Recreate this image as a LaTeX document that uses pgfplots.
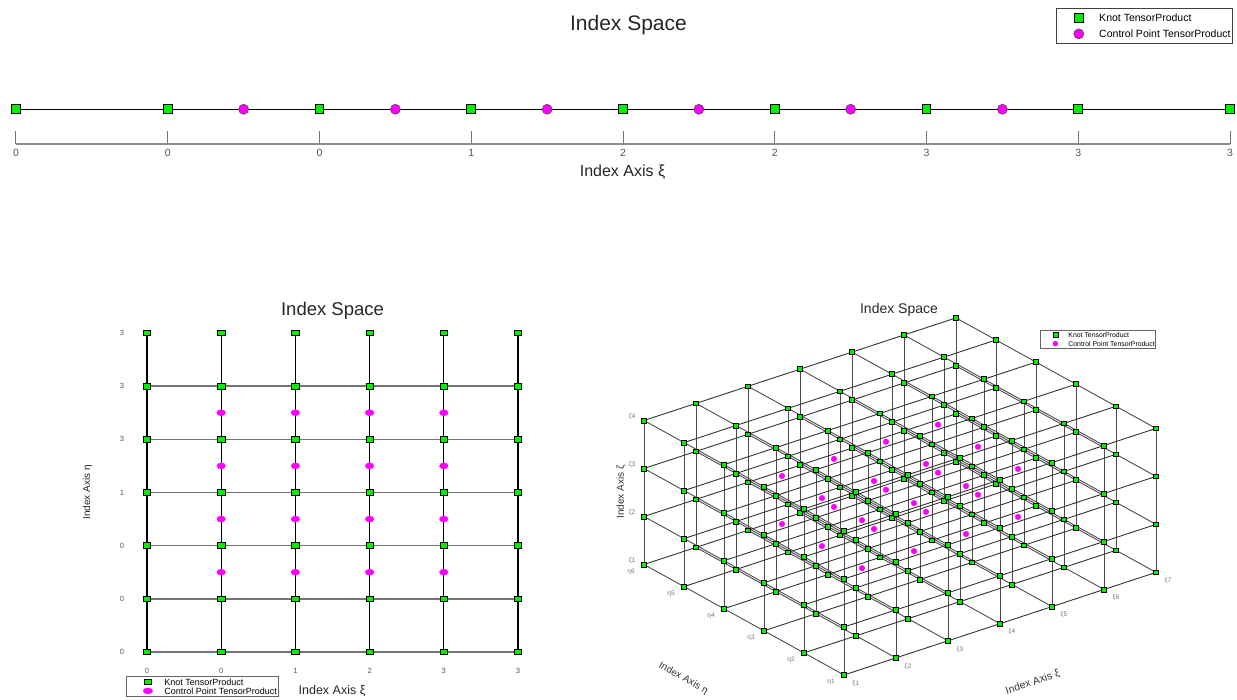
\documentclass[border=0pt]{standalone}
\usepackage{pgfplots}
\pgfplotsset{compat=1.18}
\usepackage{pgfplotstable}
\usepackage{fontspec}
\setmainfont{Liberation Sans}

\definecolor{knotgreen}{RGB}{0,240,0}
\definecolor{ctrlmag}{RGB}{255,0,255}
\definecolor{labelgray}{RGB}{85,85,85}

\newcommand{\fs}[1]{\fontsize{#1}{#1}\selectfont}

% 2D index grid: knots listed column by column (xi index i, eta index j)
\pgfplotstableread[row sep=\\]{
i j\\
0 0\\0 1\\0 2\\0 3\\0 4\\0 5\\0 6\\nan nan\\
1 0\\1 1\\1 2\\1 3\\1 4\\1 5\\1 6\\nan nan\\
2 0\\2 1\\2 2\\2 3\\2 4\\2 5\\2 6\\nan nan\\
3 0\\3 1\\3 2\\3 3\\3 4\\3 5\\3 6\\nan nan\\
4 0\\4 1\\4 2\\4 3\\4 4\\4 5\\4 6\\nan nan\\
5 0\\5 1\\5 2\\5 3\\5 4\\5 5\\5 6\\
}\knotsTwo

% 3D index grid: knots listed along xi for every (eta, zeta)
\pgfplotstableread[row sep=\\]{
a b c\\
0 0 0\\1 0 0\\2 0 0\\3 0 0\\4 0 0\\5 0 0\\6 0 0\\nan nan nan\\
0 1 0\\1 1 0\\2 1 0\\3 1 0\\4 1 0\\5 1 0\\6 1 0\\nan nan nan\\
0 2 0\\1 2 0\\2 2 0\\3 2 0\\4 2 0\\5 2 0\\6 2 0\\nan nan nan\\
0 3 0\\1 3 0\\2 3 0\\3 3 0\\4 3 0\\5 3 0\\6 3 0\\nan nan nan\\
0 4 0\\1 4 0\\2 4 0\\3 4 0\\4 4 0\\5 4 0\\6 4 0\\nan nan nan\\
0 5 0\\1 5 0\\2 5 0\\3 5 0\\4 5 0\\5 5 0\\6 5 0\\nan nan nan\\
0 0 1\\1 0 1\\2 0 1\\3 0 1\\4 0 1\\5 0 1\\6 0 1\\nan nan nan\\
0 1 1\\1 1 1\\2 1 1\\3 1 1\\4 1 1\\5 1 1\\6 1 1\\nan nan nan\\
0 2 1\\1 2 1\\2 2 1\\3 2 1\\4 2 1\\5 2 1\\6 2 1\\nan nan nan\\
0 3 1\\1 3 1\\2 3 1\\3 3 1\\4 3 1\\5 3 1\\6 3 1\\nan nan nan\\
0 4 1\\1 4 1\\2 4 1\\3 4 1\\4 4 1\\5 4 1\\6 4 1\\nan nan nan\\
0 5 1\\1 5 1\\2 5 1\\3 5 1\\4 5 1\\5 5 1\\6 5 1\\nan nan nan\\
0 0 2\\1 0 2\\2 0 2\\3 0 2\\4 0 2\\5 0 2\\6 0 2\\nan nan nan\\
0 1 2\\1 1 2\\2 1 2\\3 1 2\\4 1 2\\5 1 2\\6 1 2\\nan nan nan\\
0 2 2\\1 2 2\\2 2 2\\3 2 2\\4 2 2\\5 2 2\\6 2 2\\nan nan nan\\
0 3 2\\1 3 2\\2 3 2\\3 3 2\\4 3 2\\5 3 2\\6 3 2\\nan nan nan\\
0 4 2\\1 4 2\\2 4 2\\3 4 2\\4 4 2\\5 4 2\\6 4 2\\nan nan nan\\
0 5 2\\1 5 2\\2 5 2\\3 5 2\\4 5 2\\5 5 2\\6 5 2\\nan nan nan\\
0 0 3\\1 0 3\\2 0 3\\3 0 3\\4 0 3\\5 0 3\\6 0 3\\nan nan nan\\
0 1 3\\1 1 3\\2 1 3\\3 1 3\\4 1 3\\5 1 3\\6 1 3\\nan nan nan\\
0 2 3\\1 2 3\\2 2 3\\3 2 3\\4 2 3\\5 2 3\\6 2 3\\nan nan nan\\
0 3 3\\1 3 3\\2 3 3\\3 3 3\\4 3 3\\5 3 3\\6 3 3\\nan nan nan\\
0 4 3\\1 4 3\\2 4 3\\3 4 3\\4 4 3\\5 4 3\\6 4 3\\nan nan nan\\
0 5 3\\1 5 3\\2 5 3\\3 5 3\\4 5 3\\5 5 3\\6 5 3\\
}\knotsThree

% 3D grid lines along eta (one per xi, zeta)
\pgfplotstableread[row sep=\\]{
a b c\\
0 0 0\\0 5 0\\nan nan nan\\0 0 1\\0 5 1\\nan nan nan\\0 0 2\\0 5 2\\nan nan nan\\0 0 3\\0 5 3\\nan nan nan\\
1 0 0\\1 5 0\\nan nan nan\\1 0 1\\1 5 1\\nan nan nan\\1 0 2\\1 5 2\\nan nan nan\\1 0 3\\1 5 3\\nan nan nan\\
2 0 0\\2 5 0\\nan nan nan\\2 0 1\\2 5 1\\nan nan nan\\2 0 2\\2 5 2\\nan nan nan\\2 0 3\\2 5 3\\nan nan nan\\
3 0 0\\3 5 0\\nan nan nan\\3 0 1\\3 5 1\\nan nan nan\\3 0 2\\3 5 2\\nan nan nan\\3 0 3\\3 5 3\\nan nan nan\\
4 0 0\\4 5 0\\nan nan nan\\4 0 1\\4 5 1\\nan nan nan\\4 0 2\\4 5 2\\nan nan nan\\4 0 3\\4 5 3\\nan nan nan\\
5 0 0\\5 5 0\\nan nan nan\\5 0 1\\5 5 1\\nan nan nan\\5 0 2\\5 5 2\\nan nan nan\\5 0 3\\5 5 3\\nan nan nan\\
6 0 0\\6 5 0\\nan nan nan\\6 0 1\\6 5 1\\nan nan nan\\6 0 2\\6 5 2\\nan nan nan\\6 0 3\\6 5 3\\
}\etaLines

% 3D grid lines along zeta (one per xi, eta)
\pgfplotstableread[row sep=\\]{
a b c\\
0 0 0\\0 0 3\\nan nan nan\\0 1 0\\0 1 3\\nan nan nan\\0 2 0\\0 2 3\\nan nan nan\\0 3 0\\0 3 3\\nan nan nan\\0 4 0\\0 4 3\\nan nan nan\\0 5 0\\0 5 3\\nan nan nan\\
1 0 0\\1 0 3\\nan nan nan\\1 1 0\\1 1 3\\nan nan nan\\1 2 0\\1 2 3\\nan nan nan\\1 3 0\\1 3 3\\nan nan nan\\1 4 0\\1 4 3\\nan nan nan\\1 5 0\\1 5 3\\nan nan nan\\
2 0 0\\2 0 3\\nan nan nan\\2 1 0\\2 1 3\\nan nan nan\\2 2 0\\2 2 3\\nan nan nan\\2 3 0\\2 3 3\\nan nan nan\\2 4 0\\2 4 3\\nan nan nan\\2 5 0\\2 5 3\\nan nan nan\\
3 0 0\\3 0 3\\nan nan nan\\3 1 0\\3 1 3\\nan nan nan\\3 2 0\\3 2 3\\nan nan nan\\3 3 0\\3 3 3\\nan nan nan\\3 4 0\\3 4 3\\nan nan nan\\3 5 0\\3 5 3\\nan nan nan\\
4 0 0\\4 0 3\\nan nan nan\\4 1 0\\4 1 3\\nan nan nan\\4 2 0\\4 2 3\\nan nan nan\\4 3 0\\4 3 3\\nan nan nan\\4 4 0\\4 4 3\\nan nan nan\\4 5 0\\4 5 3\\nan nan nan\\
5 0 0\\5 0 3\\nan nan nan\\5 1 0\\5 1 3\\nan nan nan\\5 2 0\\5 2 3\\nan nan nan\\5 3 0\\5 3 3\\nan nan nan\\5 4 0\\5 4 3\\nan nan nan\\5 5 0\\5 5 3\\nan nan nan\\
6 0 0\\6 0 3\\nan nan nan\\6 1 0\\6 1 3\\nan nan nan\\6 2 0\\6 2 3\\nan nan nan\\6 3 0\\6 3 3\\nan nan nan\\6 4 0\\6 4 3\\nan nan nan\\6 5 0\\6 5 3\\
}\zetaLines

% 3D control points (Greville positions in index space)
\pgfplotstableread[row sep=\\]{
a b c\\
1.5 1.5 1\\2.5 1.5 1\\3.5 1.5 1\\4.5 1.5 1\\
1.5 2.5 1\\2.5 2.5 1\\3.5 2.5 1\\4.5 2.5 1\\
1.5 3.5 1\\2.5 3.5 1\\3.5 3.5 1\\4.5 3.5 1\\
1.5 1.5 2\\2.5 1.5 2\\3.5 1.5 2\\4.5 1.5 2\\
1.5 2.5 2\\2.5 2.5 2\\3.5 2.5 2\\4.5 2.5 2\\
1.5 3.5 2\\2.5 3.5 2\\3.5 3.5 2\\4.5 3.5 2\\
}\ctrlThree

\pgfplotsset{
  every axis/.append style={unbounded coords=jump, legend cell align=left},
}
\tikzset{
  tick3d/.style={font=\fs{6.5}, text=black!55, inner sep=0pt},
}

\begin{document}
\begin{tikzpicture}
\useasboundingbox (0pt,0pt) rectangle (1237pt,700pt);

% ---------------- 1D index space ----------------
\begin{axis}[
  anchor=south west, at={(16pt,556pt)},
  x=151.75pt, y=1pt, disabledatascaling,
  xmin=0, xmax=8, ymin=-34.7, ymax=0, clip=false,
  axis x line=bottom, axis y line=none, ytick=\empty,
  axis line style={-, draw=black!45, line width=1.3pt},
  x axis line style={-},
  xtick={0,1,...,8}, xticklabels={0,0,0,1,2,2,3,3,3},
  xtick align=inside, major tick length=13pt,
  tick style={draw=black!55, line width=1pt},
  xticklabel style={font=\fs{10.5}, text=labelgray, anchor=base, yshift=-12.7pt, inner sep=0pt},
  title={Index Space}, title style={font=\fs{21}, text=black!85, at={(0.5045,3.089)}, anchor=base},
  xlabel={Index Axis ξ}, xlabel style={font=\fs{16}, text=black!85, at={(0.4996,-0.95)}, anchor=base},
  legend image code/.code={\path (-20pt,0pt) (20pt,0pt);\draw[#1] plot coordinates {(0pt,0pt)};},
  legend style={at={(1.00247,3.919)}, anchor=north east, draw=black!75, line width=0.9pt,
    inner xsep=2pt, inner ysep=5pt, row sep=6.8pt, font=\fs{10.5},
    nodes={inner sep=0pt, text height=7.5pt, text depth=0pt}},
]
\addplot[black, line width=1.3pt, mark=square*, mark size=4.3pt,
  mark options={fill=knotgreen, draw=black, line width=1pt}, forget plot]
  coordinates {(0,0) (1,0) (2,0) (3,0) (4,0) (5,0) (6,0) (7,0) (8,0)};
\addplot[only marks, mark=*, mark size=5pt,
  mark options={fill=ctrlmag, draw=black!70, line width=0.6pt}, forget plot]
  coordinates {(1.5,0) (2.5,0) (3.5,0) (4.5,0) (5.5,0) (6.5,0)};
\addlegendimage{mark=square*, mark size=4.3pt, mark options={fill=knotgreen, draw=black, line width=1pt}}
\addlegendentry{Knot TensorProduct}
\addlegendimage{mark=*, mark size=5pt, mark options={fill=ctrlmag, draw=black!70, line width=0.6pt}}
\addlegendentry{Control Point TensorProduct}
\end{axis}

% ---------------- 2D index space ----------------
\begin{axis}[
  anchor=south west, at={(147pt,48pt)},
  x=74.2pt, y=53.17pt, disabledatascaling,
  xmin=0, xmax=5, ymin=0, ymax=6, clip=false,
  axis line style={draw=none}, tick style={draw=none}, major tick length=0pt,
  xtick={0,...,5}, xticklabels={0,0,1,2,3,3},
  ytick={0,...,6}, yticklabels={0,0,0,1,3,3,3},
  ticklabel style={font=\fs{7.5}, text=labelgray, inner sep=0pt},
  xticklabel style={anchor=base, yshift=-21.7pt},
  yticklabel style={anchor=east, xshift=-22.7pt},
  title={Index Space}, title style={font=\fs{18.5}, text=black!85, at={(0.5,1.0354)}, anchor=base},
  xlabel={Index Axis ξ}, xlabel style={font=\fs{12.5}, text=black!85, at={(0.4987,-0.1348)}, anchor=base},
  ylabel={Index Axis η}, ylabel style={font=\fs{10}, text=black!85, at={(-0.1536,0.5)}, anchor=base},
  legend image code/.code={\path (-19.7pt,0pt) (16pt,0pt);\draw[#1] plot coordinates {(0pt,0pt)};},
  legend style={at={(-0.0566,-0.0752)}, anchor=north west, draw=black!60, line width=0.7pt,
    inner xsep=1.5pt, inner ysep=2.5pt, row sep=2.5pt, font=\fs{9},
    nodes={inner sep=0pt, text height=6.4pt, text depth=0pt}},
]
% lines along xi
\addplot[black!55, line width=1.6pt, forget plot] coordinates {
  (0,0) (5,0) (nan,nan) (0,1) (5,1) (nan,nan) (0,2) (5,2) (nan,nan)
  (0,3) (5,3) (nan,nan) (0,4) (5,4) (nan,nan) (0,5) (5,5)};
% lines along eta
\addplot[black, line width=1.2pt, forget plot] table[x=i, y=j] {\knotsTwo};
\addplot[only marks, mark=*, mark size=3.1pt,
  mark options={fill=ctrlmag, draw=ctrlmag, line width=0.3pt, xscale=1.4}, forget plot]
  coordinates {
  (1,1.5) (2,1.5) (3,1.5) (4,1.5)
  (1,2.5) (2,2.5) (3,2.5) (4,2.5)
  (1,3.5) (2,3.5) (3,3.5) (4,3.5)
  (1,4.5) (2,4.5) (3,4.5) (4,4.5)};
\addplot[only marks, mark=square*, mark size=3.7pt,
  mark options={fill=knotgreen, draw=black, line width=0.8pt, yscale=0.75}, forget plot]
  table[x=i, y=j] {\knotsTwo};
\addlegendimage{mark=square*, mark size=3.3pt, mark options={fill=knotgreen, draw=black, line width=0.7pt, yscale=0.8}}
\addlegendentry{Knot TensorProduct}
\addlegendimage{mark=*, mark size=3pt, mark options={fill=ctrlmag, draw=ctrlmag, line width=0.3pt, xscale=1.6}}
\addlegendentry{Control Point TensorProduct}
\end{axis}

% ---------------- 3D index space ----------------
\begin{axis}[
  anchor=origin, at={(844pt,25pt)},
  x={(52pt,17.1pt)}, y={(-40pt,22.1pt)}, z={(0pt,48pt)},
  disabledatascaling,
  xmin=0, xmax=6, ymin=0, ymax=5, zmin=0, zmax=3,
  hide axis, clip=false,
  legend image code/.code={\path (-13.6pt,0pt) (12.7pt,0pt);\draw[#1] plot coordinates {(0pt,0pt)};},
  legend style={at={(1.0,0.966)}, anchor=north east, draw=black!60, line width=0.6pt,
    inner xsep=1pt, inner ysep=2.3pt, row sep=3.5pt, font=\fs{6.9},
    nodes={inner sep=0pt, text height=4.9pt, text depth=0pt}},
]
\addplot3[black!70, line width=0.9pt, forget plot] table[x=a, y=b, z=c] {\etaLines};
\addplot3[black!70, line width=0.9pt, forget plot] table[x=a, y=b, z=c] {\zetaLines};
\addplot3[black!80, line width=0.9pt, forget plot] table[x=a, y=b, z=c] {\knotsThree};
\addplot3[only marks, mark=*, mark size=2.9pt,
  mark options={fill=ctrlmag, draw=ctrlmag, line width=0.2pt}, forget plot]
  table[x=a, y=b, z=c] {\ctrlThree};
\addplot3[only marks, mark=square*, mark size=2.4pt,
  mark options={fill=knotgreen, draw=black, line width=0.7pt}, forget plot]
  table[x=a, y=b, z=c] {\knotsThree};
\addlegendimage{mark=square*, mark size=2.4pt, mark options={fill=knotgreen, draw=black, line width=0.6pt}}
\addlegendentry{Knot TensorProduct}
\addlegendimage{mark=*, mark size=2.6pt, mark options={fill=ctrlmag, draw=ctrlmag, line width=0.2pt}}
\addlegendentry{Control Point TensorProduct}

% index labels along the three edges
\node[tick3d] at ([shift={(12pt,-8.5pt)}]axis cs:0,0,0) {ξ1};
\node[tick3d] at ([shift={(12pt,-8.5pt)}]axis cs:1,0,0) {ξ2};
\node[tick3d] at ([shift={(12pt,-8.5pt)}]axis cs:2,0,0) {ξ3};
\node[tick3d] at ([shift={(12pt,-8.5pt)}]axis cs:3,0,0) {ξ4};
\node[tick3d] at ([shift={(12pt,-8.5pt)}]axis cs:4,0,0) {ξ5};
\node[tick3d] at ([shift={(12pt,-8.5pt)}]axis cs:5,0,0) {ξ6};
\node[tick3d] at ([shift={(12pt,-8.5pt)}]axis cs:6,0,0) {ξ7};
\node[tick3d] at ([shift={(-13pt,-7pt)}]axis cs:0,0,0) {η1};
\node[tick3d] at ([shift={(-13pt,-7pt)}]axis cs:0,1,0) {η2};
\node[tick3d] at ([shift={(-13pt,-7pt)}]axis cs:0,2,0) {η3};
\node[tick3d] at ([shift={(-13pt,-7pt)}]axis cs:0,3,0) {η4};
\node[tick3d] at ([shift={(-13pt,-7pt)}]axis cs:0,4,0) {η5};
\node[tick3d] at ([shift={(-13pt,-7pt)}]axis cs:0,5,0) {η6};
\node[tick3d] at ([shift={(-12pt,3.7pt)}]axis cs:0,5,0) {ζ1};
\node[tick3d] at ([shift={(-12pt,3.7pt)}]axis cs:0,5,1) {ζ2};
\node[tick3d] at ([shift={(-12pt,3.7pt)}]axis cs:0,5,2) {ζ3};
\node[tick3d] at ([shift={(-12pt,3.7pt)}]axis cs:0,5,3) {ζ4};

% axis names and title
\node[font=\fs{10.5}, text=black!80, rotate=18.2] at ([shift={(188.7pt,-7.5pt)}]axis cs:0,0,0) {Index Axis ξ};
\node[font=\fs{10}, text=black!80, rotate=-28.9] at ([shift={(-160.7pt,-3.3pt)}]axis cs:0,0,0) {Index Axis η};
\node[font=\fs{10}, text=black!80, rotate=90] at ([shift={(-223pt,183pt)}]axis cs:0,0,0) {Index Axis ζ};
\node[font=\fs{14}, text=black!85, anchor=base] at ([shift={(55pt,361pt)}]axis cs:0,0,0) {Index Space};
\end{axis}
\end{tikzpicture}
\end{document}
